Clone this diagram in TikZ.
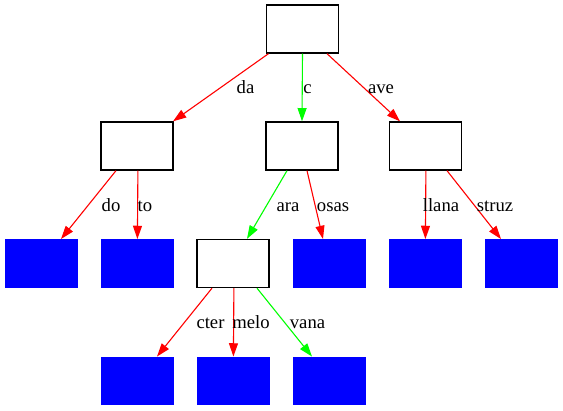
\documentclass[tikz,border=0pt]{standalone}
\usepackage{fontspec}
\setmainfont{Liberation Serif}
\usetikzlibrary{arrows.meta}
\definecolor{gvred}{RGB}{255,0,0}
\definecolor{gvgreen}{RGB}{0,255,0}
\definecolor{gvblue}{RGB}{0,0,255}
\tikzset{
  inner/.style={draw=black, line width=1.33pt, fill=white, minimum width=72pt, minimum height=48pt, inner sep=0pt},
  leaf/.style={fill=gvblue, draw=none, minimum width=73pt, minimum height=48.5pt, inner sep=0pt},
  redge/.style={draw=gvred, line width=1.1pt, -{Triangle[length=13.3pt, width=9pt]}},
  gedge/.style={draw=gvgreen, line width=1.1pt, -{Triangle[length=13.3pt, width=9pt]}},
  lbl/.style={anchor=base, inner sep=0pt, font=\fontsize{18.67}{20}\selectfont}
}
\begin{document}
\begin{tikzpicture}[x=1pt, y=-1pt]
\useasboundingbox[fill=white] (0,0) rectangle (563,411);
% nodes
\node[inner] (root) at (302.5,29) {};
\node[inner] (L) at (137,146) {};
\node[inner] (M) at (302,146) {};
\node[inner] (R) at (425.5,146) {};
\node[leaf] (b1) at (41,263.5) {};
\node[leaf] (b2) at (137,263.5) {};
\node[inner] (W) at (233,263.5) {};
\node[leaf] (b3) at (329,263.5) {};
\node[leaf] (b4) at (425,263.5) {};
\node[leaf] (b5) at (521,263.5) {};
\node[leaf] (c1) at (137,381) {};
\node[leaf] (c2) at (233,381) {};
\node[leaf] (c3) at (329,381) {};
% edges
\draw[redge] ([xshift=-34pt]root.south) -- ([xshift=36pt]L.north);
\draw[gedge] (root.south) -- (M.north);
\draw[redge] ([xshift=24.5pt]root.south) -- ([xshift=-25.5pt]R.north);
\draw[redge] ([xshift=-21pt]L.south) -- ([xshift=20pt]b1.north);
\draw[redge] ([xshift=0.9pt]L.south) -- ([xshift=0.4pt]b2.north);
\draw[gedge] ([xshift=-15pt]M.south) -- ([xshift=14pt]W.north);
\draw[redge] ([xshift=5pt]M.south) -- ([xshift=-6pt]b3.north);
\draw[redge] ([xshift=0.4pt]R.south) -- ([xshift=0.4pt]b4.north);
\draw[redge] ([xshift=21.5pt]R.south) -- ([xshift=-20pt]b5.north);
\draw[redge] ([xshift=-21pt]W.south) -- ([xshift=20pt]c1.north);
\draw[redge] ([xshift=0.9pt]W.south) -- ([xshift=0.4pt]c2.north);
\draw[gedge] ([xshift=24pt]W.south) -- ([xshift=-17pt]c3.north);
% labels
\node[lbl] (lda) at (245.5,94) {da};
\node[lbl] (lc) at (307.5,94) {c};
\node[lbl] (lave) at (381,94) {ave};
\node[lbl] (ldo) at (111,212) {do};
\node[lbl] (lto) at (145,212) {to};
\node[lbl] (lara) at (288,212) {ara};
\node[lbl] (losas) at (333,212) {osas};
\node[lbl] (lllana) at (441,212) {llana};
\node[lbl] (lstruz) at (495,212) {struz};
\node[lbl] (lcter) at (210.5,329) {cter};
\node[lbl] (lmelo) at (251,329) {melo};
\node[lbl] (lvana) at (307.5,329) {vana};
\end{tikzpicture}
\end{document}
